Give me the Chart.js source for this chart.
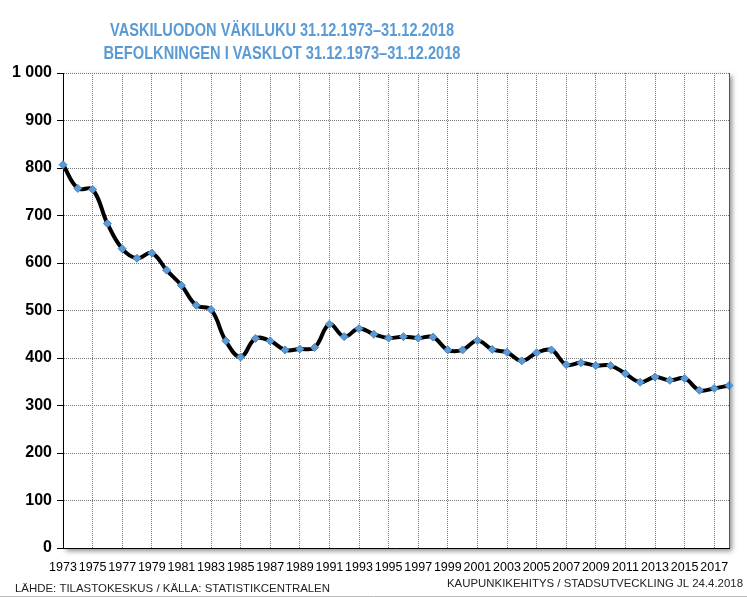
<!DOCTYPE html>
<html>
<head>
<meta charset="utf-8">
<script src="https://cdn.jsdelivr.net/npm/chart.js@4.4.0/dist/chart.umd.min.js"></script>
<style>
html, body { margin: 0; padding: 0; background: #fff; }
#wrap { width: 747px; height: 597px; }
</style>
</head>
<body>
<div id="wrap"><canvas id="popChart" width="747" height="597"></canvas></div>
<script>
// --- Data ---
const years = ['1973', '1974', '1975', '1976', '1977', '1978', '1979', '1980', '1981', '1982',
               '1983', '1984', '1985', '1986', '1987', '1988', '1989', '1990', '1991', '1992',
               '1993', '1994', '1995', '1996', '1997', '1998', '1999', '2000', '2001', '2002',
               '2003', '2004', '2005', '2006', '2007', '2008', '2009', '2010', '2011', '2012',
               '2013', '2014', '2015', '2016', '2017', '2018'];
const population = [807, 757, 755, 683, 630, 610, 621, 585, 553, 511,
                    502, 436, 402, 441, 436, 417, 419, 422, 471, 445,
                    462, 450, 442, 445, 442, 444, 417, 417, 437, 418,
                    412, 394, 411, 417, 386, 390, 384, 384, 367, 349,
                    360, 353, 357, 332, 336, 342];
const yMin = 0, yMax = 1000, yStep = 100;
const titleLines = ['VASKILUODON VÄKILUKU 31.12.1973–31.12.2018',
                    'BEFOLKNINGEN I VASKLOT 31.12.1973–31.12.2018'];
const sourceText = 'LÄHDE: TILASTOKESKUS / KÄLLA: STATISTIKCENTRALEN';
const creditText = 'KAUPUNKIKEHITYS / STADSUTVECKLING JL 24.4.2018';

const blue = '#5B9BD5';

// draws text squeezed to a given width (the original uses a narrow face)
function fitText(ctx, text, x, y, width, align) {
    const w = ctx.measureText(text).width;
    const sx = width / w;
    let x0 = x;
    if (align === 'center') x0 = x - width / 2;
    if (align === 'right') x0 = x - width;
    ctx.save();
    ctx.translate(x0, y);
    ctx.scale(sx, 1);
    ctx.textAlign = 'left';
    ctx.fillText(text, 0, 0);
    ctx.restore();
}

const framePlugin = {
    id: 'frame',
    beforeDraw(chart) {
        const ctx = chart.ctx;
        const a = chart.chartArea;
        ctx.save();
        ctx.fillStyle = '#fff';
        ctx.fillRect(0, 0, chart.width, chart.height);
        // drop shadow behind the plot area
        ctx.shadowColor = 'rgba(0,0,0,0.45)';
        ctx.shadowBlur = 5;
        ctx.shadowOffsetX = 3;
        ctx.shadowOffsetY = 3;
        ctx.fillRect(a.left, a.top, a.right - a.left, a.bottom - a.top);
        ctx.restore();
    },
    afterDraw(chart) {
        const ctx = chart.ctx;
        const a = chart.chartArea;
        ctx.save();
        ctx.strokeStyle = '#555';
        ctx.lineWidth = 1;
        ctx.beginPath();
        ctx.moveTo(a.right + 0.5, a.top);
        ctx.lineTo(a.right + 0.5, a.bottom);
        ctx.stroke();

        // title
        ctx.fillStyle = blue;
        ctx.textBaseline = 'middle';
        ctx.font = "bold 19px 'Liberation Sans Narrow', 'Liberation Sans', Arial, sans-serif";
        fitText(ctx, titleLines[0], 282, 31, 344, 'center');
        fitText(ctx, titleLines[1], 282, 54, 357, 'center');

        // footers
        ctx.fillStyle = '#222';
        ctx.font = "11px 'Liberation Sans', Arial, sans-serif";
        fitText(ctx, sourceText, 15, 589, 315, 'left');
        fitText(ctx, creditText, 743, 584, 296, 'right');

        ctx.strokeStyle = '#bbb';
        ctx.beginPath();
        ctx.moveTo(0, 596.5);
        ctx.lineTo(chart.width, 596.5);
        ctx.stroke();
        ctx.restore();
    }
};

new Chart(document.getElementById('popChart').getContext('2d'), {
    type: 'line',
    data: {
        labels: years,
        datasets: [{
            data: population,
            borderColor: '#000',
            borderWidth: 4,
            tension: 0.4,
            pointStyle: 'rectRot',
            pointRadius: 4,
            pointBackgroundColor: blue,
            pointBorderColor: '#4a86c2',
            pointBorderWidth: 1,
            clip: false
        }]
    },
    options: {
        responsive: false,
        animation: false,
        devicePixelRatio: 1,
        layout: { padding: { top: 73, right: 18, left: 0, bottom: 0 } },
        plugins: {
            legend: { display: false },
            title: { display: false },
            tooltip: { enabled: false }
        },
        scales: {
            x: {
                type: 'category',
                offset: false,
                afterFit: function(scale) { scale.height = 49; },
                grid: {
                    drawTicks: false,
                    color: ctx => (ctx.index % 2 === 0 ? '#777' : 'rgba(0,0,0,0)')
                },
                border: { color: '#000', width: 1, dash: [1, 1] },
                ticks: {
                    autoSkip: false,
                    maxRotation: 0,
                    padding: 12,
                    color: '#000',
                    font: { family: "'Liberation Sans', Arial, sans-serif", size: 12.5 },
                    callback: function(value, index) { return index % 2 === 0 ? this.getLabelForValue(value) : ''; }
                }
            },
            y: {
                min: yMin,
                max: yMax,
                afterFit: function(scale) { scale.width = 63; },
                grid: {
                    color: '#777',
                    tickColor: '#000',
                    tickLength: 6
                },
                border: { color: '#000', width: 1, dash: [1, 1] },
                ticks: {
                    stepSize: yStep,
                    padding: 5,
                    color: '#000',
                    font: { family: "'Liberation Sans', Arial, sans-serif", size: 16, weight: 'bold' },
                    callback: v => (v >= 1000 ? Math.floor(v / 1000) + ' ' + String(v % 1000).padStart(3, '0') : String(v))
                }
            }
        }
    },
    plugins: [framePlugin]
});
</script>
</body>
</html>
